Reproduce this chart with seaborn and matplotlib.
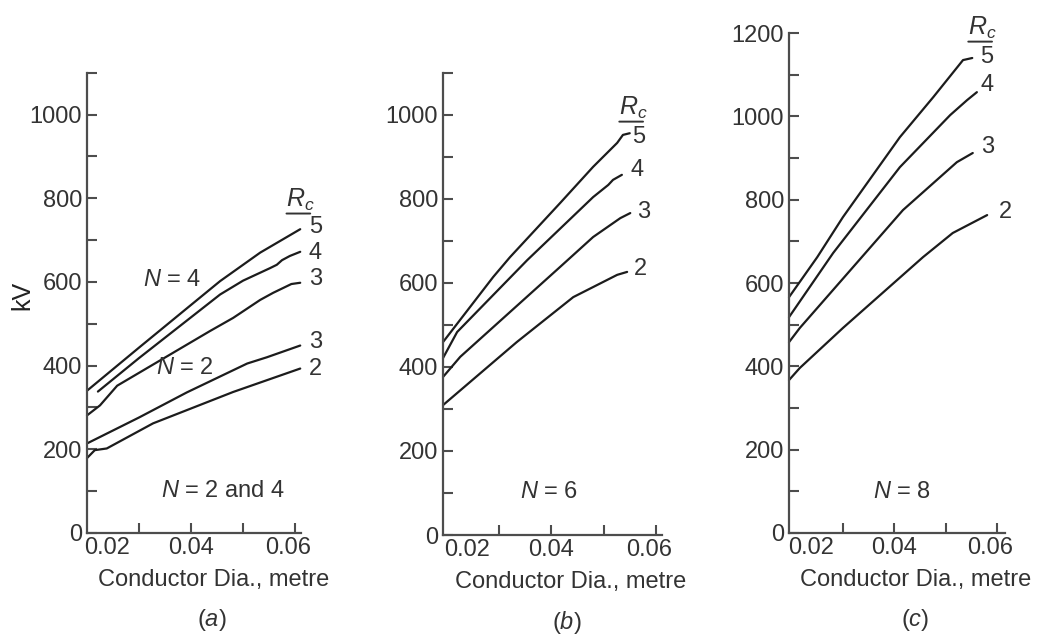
import matplotlib
matplotlib.use("Agg")
import matplotlib.pyplot as plt
import pandas as pd
import seaborn as sns
from matplotlib.transforms import ScaledTranslation

sns.set_theme(style="ticks")
plt.rcParams["font.family"] = ["Liberation Sans", "DejaVu Sans"]
plt.rcParams["mathtext.fontset"] = "custom"
plt.rcParams["mathtext.rm"] = "Liberation Sans"
plt.rcParams["mathtext.it"] = "Liberation Sans:italic"

TEXT = "#333333"
AXIS = "#4d4d4d"
LINE = "#1c1c1c"
FS = 17

# ---------------- data: conductor diameter (m) vs corona voltage (kV) ----------------
# (a) N = 2 and N = 4
a_n4_rc5_d = [0.0200, 0.0300, 0.0400, 0.0456, 0.0533, 0.0610]
a_n4_rc5_kv = [340, 443, 545, 602, 670, 726]
a_n4_rc4_d = [0.0221, 0.0300, 0.0417, 0.0456, 0.0500, 0.0552, 0.0565, 0.0575, 0.0590, 0.0610]
a_n4_rc4_kv = [338, 418, 532, 570, 603, 633, 641, 652, 662, 672]
a_n4_rc3_d = [0.0200, 0.0225, 0.0258, 0.0340, 0.0437, 0.0481, 0.0533, 0.0558, 0.0593, 0.0610]
a_n4_rc3_kv = [281, 305, 352, 412, 483, 514, 557, 574, 595, 598]
a_n2_rc3_d = [0.0200, 0.0250, 0.0300, 0.0392, 0.0508, 0.0546, 0.0610]
a_n2_rc3_kv = [214, 245, 276, 336, 405, 420, 448]
a_n2_rc2_d = [0.0200, 0.0215, 0.0238, 0.0327, 0.0481, 0.0610]
a_n2_rc2_kv = [179, 198, 202, 262, 337, 393]

# (b) N = 6
b_rc5_d = [0.0193, 0.0289, 0.0321, 0.0417, 0.0480, 0.0526, 0.0537, 0.0550]
b_rc5_kv = [459, 614, 661, 790, 876, 933, 952, 956]
b_rc4_d = [0.0193, 0.0220, 0.0354, 0.0480, 0.0509, 0.0518, 0.0535]
b_rc4_kv = [421, 483, 654, 804, 833, 845, 857]
b_rc3_d = [0.0193, 0.0226, 0.0417, 0.0480, 0.0532, 0.0551]
b_rc3_kv = [376, 424, 638, 709, 754, 766]
b_rc2_d = [0.0193, 0.0334, 0.0442, 0.0526, 0.0545]
b_rc2_kv = [309, 459, 566, 619, 626]

# (c) N = 8
c_rc5_d = [0.0195, 0.0250, 0.0300, 0.0411, 0.0476, 0.0534, 0.0552]
c_rc5_kv = [566, 662, 758, 950, 1046, 1135, 1140]
c_rc4_d = [0.0195, 0.0281, 0.0411, 0.0509, 0.0542, 0.0561]
c_rc4_kv = [518, 672, 878, 1003, 1039, 1058]
c_rc3_d = [0.0195, 0.0216, 0.0417, 0.0522, 0.0553]
c_rc3_kv = [458, 492, 775, 890, 912]
c_rc2_d = [0.0195, 0.0216, 0.0300, 0.0456, 0.0514, 0.0581]
c_rc2_kv = [367, 396, 492, 662, 720, 763]

rc_labels_a = ["5", "4", "3", "3", "2"]
rc_labels_b = ["5", "4", "3", "2"]
rc_labels_c = ["5", "4", "3", "2"]

x_tick_labels = ["0.02", "0.04", "0.06"]
x_label_ticks = [0.02, 0.04, 0.06]
x_minor_ticks = [0.03, 0.04, 0.05, 0.06]

panels = [
    dict(
        curves=[(a_n4_rc5_d, a_n4_rc5_kv), (a_n4_rc4_d, a_n4_rc4_kv), (a_n4_rc3_d, a_n4_rc3_kv),
                (a_n2_rc3_d, a_n2_rc3_kv), (a_n2_rc2_d, a_n2_rc2_kv)],
        labels=rc_labels_a,
        label_off=[(15, 2), (15, -1), (15, 4), (15, 4), (15, 0)],
        rect=[0.08341, 0.16063, 0.20518, 0.72488],
        xlim=(0.0200, 0.06115), ymax=1100,
        rc_pos=(0.0610, 796),
        notes=[(r"$N$ = 4", 0.03634, 605), (r"$N$ = 2", 0.03884, 394), (r"$N$ = 2 and 4", 0.04625, 100)],
        caption=r"($a$)", cap_xy=(212, 620), xlab_frac=0.5935, ylabel=True,
    ),
    dict(
        curves=[(b_rc5_d, b_rc5_kv), (b_rc4_d, b_rc4_kv), (b_rc3_d, b_rc3_kv), (b_rc2_d, b_rc2_kv)],
        labels=rc_labels_b,
        label_off=[(9, -4), (15, 5), (13, 1), (13, 3)],
        rect=[0.42474, 0.15748, 0.20997, 0.72803],
        xlim=(0.0193, 0.06117), ymax=1100,
        rc_pos=(0.05563, 1016),
        notes=[(r"$N$ = 6", 0.03957, 102)],
        caption=r"($b$)", cap_xy=(567, 622), xlab_frac=0.584, ylabel=False,
    ),
    dict(
        curves=[(c_rc5_d, c_rc5_kv), (c_rc4_d, c_rc4_kv), (c_rc3_d, c_rc3_kv), (c_rc2_d, c_rc2_kv)],
        labels=rc_labels_c,
        label_off=[(14, 1), (10, 7), (15, 6), (18, 3)],
        rect=[0.75647, 0.16063, 0.20710, 0.78740],
        xlim=(0.0195, 0.06158), ymax=1200,
        rc_pos=(0.0571, 1212),
        notes=[(r"$N$ = 8", 0.04151, 98)],
        caption=r"($c$)", cap_xy=(915, 620), xlab_frac=0.588, ylabel=False,
    ),
]

W, H = 1043, 635
fig = plt.figure(figsize=(W / 100, H / 100), dpi=100)

for p in panels:
    ax = fig.add_axes(p["rect"])
    rows = []
    for i, (d, kv) in enumerate(p["curves"]):
        for xv, yv in zip(d, kv):
            rows.append({"curve": i, "dia": xv, "kv": yv})
    df = pd.DataFrame(rows)
    sns.lineplot(data=df, x="dia", y="kv", units="curve", estimator=None,
                 color=LINE, lw=1.6, legend=False, ax=ax, clip_on=False)

    ax.set_xlim(*p["xlim"])
    ax.set_ylim(0, p["ymax"])

    # spines and ticks
    sns.despine(ax=ax)
    for s in ("left", "bottom"):
        ax.spines[s].set_color(AXIS)
        ax.spines[s].set_linewidth(1.6)

    ax.set_yticks(list(range(0, p["ymax"] + 1, 200)))
    ax.set_yticks(list(range(100, p["ymax"], 200)) + ([1100] if p["ymax"] == 1100 else []), minor=True)
    ax.set_yticklabels([str(v) for v in range(0, p["ymax"] + 1, 200)])

    ax.xaxis.remove_overlapping_locs = False
    ax.set_xticks(x_label_ticks)
    ax.set_xticklabels(x_tick_labels)
    ax.set_xticks(x_minor_ticks, minor=True)

    ax.tick_params(axis="both", which="both", direction="in", length=7.5, width=1.5,
                   color=AXIS, labelcolor=TEXT, labelsize=FS)
    ax.tick_params(axis="x", which="major", length=0, pad=3)
    ax.tick_params(axis="y", which="major", pad=3.6)

    xt = ax.get_xticklabels()
    xt[0].set_ha("left")
    xt[0].set_transform(xt[0].get_transform() + ScaledTranslation(-3 / 100, 0, fig.dpi_scale_trans))
    xt[2].set_transform(xt[2].get_transform() + ScaledTranslation(-7 / 100, 0, fig.dpi_scale_trans))

    ax.set_xlabel("Conductor Dia., metre", fontsize=FS, color=TEXT)
    ax.xaxis.label.set_va("center")
    ax_h_px = p["rect"][3] * H
    ax.xaxis.set_label_coords(p["xlab_frac"], -47 / ax_h_px)

    if p["ylabel"]:
        ax.set_ylabel("kV", fontsize=FS + 1, color="#222222")
        ax.yaxis.label.set_va("center")
        ax_w_px = p["rect"][2] * W
        ax.yaxis.set_label_coords((22 - 87) / ax_w_px, (533 - 295) / ax_h_px)
    else:
        ax.set_ylabel("")

    # curve labels at the end of each line
    for (d, kv), lab, (dx, dy) in zip(p["curves"], p["labels"], p["label_off"]):
        ax.annotate(lab, xy=(d[-1], kv[-1]), xytext=(dx * 0.72, dy * 0.72),
                    textcoords="offset points", ha="center", va="center",
                    fontsize=FS, color=TEXT, annotation_clip=False)

    # underlined R_c header
    rc = ax.text(p["rc_pos"][0], p["rc_pos"][1], r"$R_c$", ha="center", va="center",
                 fontsize=FS + 1, color=TEXT, clip_on=False)
    ax.annotate("", xy=(0.02, -0.02), xycoords=rc, xytext=(0.85, -0.02), textcoords=rc,
                arrowprops=dict(arrowstyle="-", lw=1.4, color=TEXT, shrinkA=0, shrinkB=0))

    for txt, xv, yv in p["notes"]:
        ax.text(xv, yv, txt, ha="center", va="center", fontsize=FS, color=TEXT)

    fig.text(p["cap_xy"][0] / W, 1 - p["cap_xy"][1] / H, p["caption"],
             ha="center", va="center", fontsize=FS, color=TEXT)

fig.savefig("out.png", dpi=100)
